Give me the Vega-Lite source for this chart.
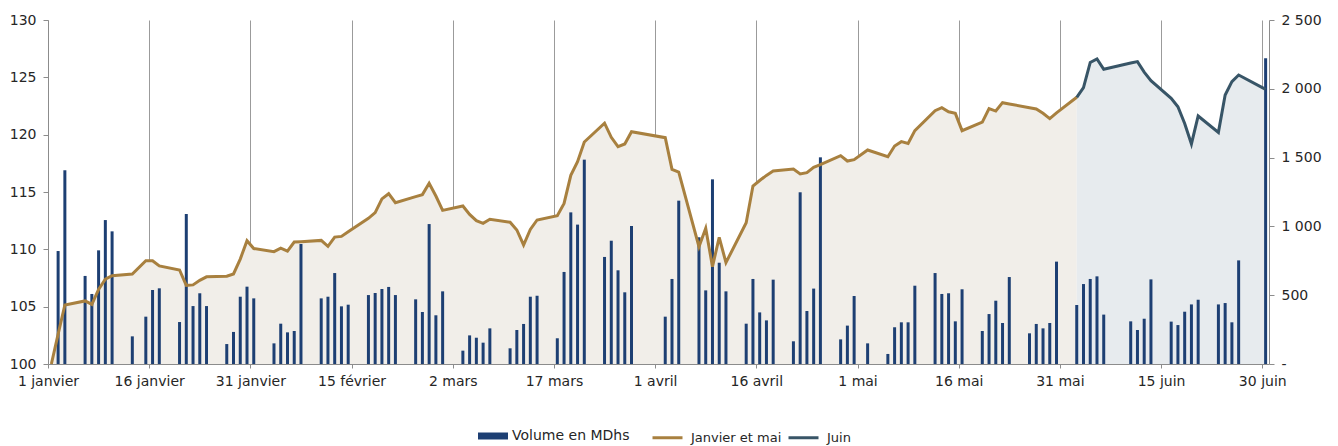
{
  "$schema": "https://vega.github.io/schema/vega-lite/v6.json",
  "width": 1221,
  "height": 344,
  "autosize": {"type": "none"},
  "padding": {"left": 48, "top": 20, "right": 69, "bottom": 82},
  "background": "white",
  "config": {
    "view": {"stroke": null},
    "font": "DejaVu Sans",
    "axis": {"labelFont": "DejaVu Sans", "labelFontSize": 14, "labelColor": "#262626", "domainColor": "#8c8c8c", "tickColor": "#8c8c8c", "title": null},
    "legend": {"labelFont": "DejaVu Sans", "labelFontSize": 14, "labelColor": "#262626"}
  },
  "datasets": {
    "volumes": [
      {"date": "2025-01-02", "volume": 821}, {"date": "2025-01-03", "volume": 1408},
      {"date": "2025-01-06", "volume": 640}, {"date": "2025-01-07", "volume": 509}, {"date": "2025-01-08", "volume": 826}, {"date": "2025-01-09", "volume": 1046}, {"date": "2025-01-10", "volume": 964},
      {"date": "2025-01-13", "volume": 201}, {"date": "2025-01-15", "volume": 344}, {"date": "2025-01-16", "volume": 538}, {"date": "2025-01-17", "volume": 550},
      {"date": "2025-01-20", "volume": 305}, {"date": "2025-01-21", "volume": 1090}, {"date": "2025-01-22", "volume": 421}, {"date": "2025-01-23", "volume": 514}, {"date": "2025-01-24", "volume": 421},
      {"date": "2025-01-27", "volume": 145}, {"date": "2025-01-28", "volume": 233}, {"date": "2025-01-29", "volume": 489}, {"date": "2025-01-30", "volume": 562}, {"date": "2025-01-31", "volume": 477},
      {"date": "2025-02-03", "volume": 150}, {"date": "2025-02-04", "volume": 293}, {"date": "2025-02-05", "volume": 230}, {"date": "2025-02-06", "volume": 240}, {"date": "2025-02-07", "volume": 872},
      {"date": "2025-02-10", "volume": 477}, {"date": "2025-02-11", "volume": 489}, {"date": "2025-02-12", "volume": 661}, {"date": "2025-02-13", "volume": 419}, {"date": "2025-02-14", "volume": 431},
      {"date": "2025-02-17", "volume": 501}, {"date": "2025-02-18", "volume": 516}, {"date": "2025-02-19", "volume": 545}, {"date": "2025-02-20", "volume": 560}, {"date": "2025-02-21", "volume": 501},
      {"date": "2025-02-24", "volume": 470}, {"date": "2025-02-25", "volume": 378}, {"date": "2025-02-26", "volume": 1017}, {"date": "2025-02-27", "volume": 354}, {"date": "2025-02-28", "volume": 528},
      {"date": "2025-03-03", "volume": 97}, {"date": "2025-03-04", "volume": 208}, {"date": "2025-03-05", "volume": 191}, {"date": "2025-03-06", "volume": 155}, {"date": "2025-03-07", "volume": 259},
      {"date": "2025-03-10", "volume": 114}, {"date": "2025-03-11", "volume": 247}, {"date": "2025-03-12", "volume": 291}, {"date": "2025-03-13", "volume": 489}, {"date": "2025-03-14", "volume": 496},
      {"date": "2025-03-17", "volume": 187}, {"date": "2025-03-18", "volume": 669}, {"date": "2025-03-19", "volume": 1102}, {"date": "2025-03-20", "volume": 1013}, {"date": "2025-03-21", "volume": 1485},
      {"date": "2025-03-24", "volume": 778}, {"date": "2025-03-25", "volume": 896}, {"date": "2025-03-26", "volume": 681}, {"date": "2025-03-27", "volume": 521}, {"date": "2025-03-28", "volume": 1003},
      {"date": "2025-04-02", "volume": 344}, {"date": "2025-04-03", "volume": 618}, {"date": "2025-04-04", "volume": 1187},
      {"date": "2025-04-07", "volume": 921}, {"date": "2025-04-08", "volume": 535}, {"date": "2025-04-09", "volume": 1342}, {"date": "2025-04-10", "volume": 736}, {"date": "2025-04-11", "volume": 528},
      {"date": "2025-04-14", "volume": 293}, {"date": "2025-04-15", "volume": 618}, {"date": "2025-04-16", "volume": 375}, {"date": "2025-04-17", "volume": 317}, {"date": "2025-04-18", "volume": 613},
      {"date": "2025-04-21", "volume": 165}, {"date": "2025-04-22", "volume": 1248}, {"date": "2025-04-23", "volume": 385}, {"date": "2025-04-24", "volume": 548}, {"date": "2025-04-25", "volume": 1502},
      {"date": "2025-04-28", "volume": 179}, {"date": "2025-04-29", "volume": 279}, {"date": "2025-04-30", "volume": 494}, {"date": "2025-05-02", "volume": 150},
      {"date": "2025-05-05", "volume": 73}, {"date": "2025-05-06", "volume": 267}, {"date": "2025-05-07", "volume": 303}, {"date": "2025-05-08", "volume": 303}, {"date": "2025-05-09", "volume": 569},
      {"date": "2025-05-12", "volume": 661}, {"date": "2025-05-13", "volume": 509}, {"date": "2025-05-14", "volume": 514}, {"date": "2025-05-15", "volume": 310}, {"date": "2025-05-16", "volume": 543},
      {"date": "2025-05-19", "volume": 240}, {"date": "2025-05-20", "volume": 363}, {"date": "2025-05-21", "volume": 460}, {"date": "2025-05-22", "volume": 298}, {"date": "2025-05-23", "volume": 632},
      {"date": "2025-05-26", "volume": 223}, {"date": "2025-05-27", "volume": 291}, {"date": "2025-05-28", "volume": 259}, {"date": "2025-05-29", "volume": 298}, {"date": "2025-05-30", "volume": 744},
      {"date": "2025-06-02", "volume": 429}, {"date": "2025-06-03", "volume": 581}, {"date": "2025-06-04", "volume": 618}, {"date": "2025-06-05", "volume": 637}, {"date": "2025-06-06", "volume": 359},
      {"date": "2025-06-10", "volume": 310}, {"date": "2025-06-11", "volume": 247}, {"date": "2025-06-12", "volume": 329}, {"date": "2025-06-13", "volume": 615},
      {"date": "2025-06-16", "volume": 308}, {"date": "2025-06-17", "volume": 283}, {"date": "2025-06-18", "volume": 380}, {"date": "2025-06-19", "volume": 433}, {"date": "2025-06-20", "volume": 467},
      {"date": "2025-06-23", "volume": 433}, {"date": "2025-06-24", "volume": 443}, {"date": "2025-06-25", "volume": 303}, {"date": "2025-06-26", "volume": 753},
      {"date": "2025-06-30", "volume": 2222}
    ],
    "indice": [
      {"date": "2025-01-01", "valeur": 100, "serie": "Janvier et mai"},
      {"date": "2025-01-02", "valeur": 102.6, "serie": "Janvier et mai"},
      {"date": "2025-01-03", "valeur": 105.15, "serie": "Janvier et mai"},
      {"date": "2025-01-06", "valeur": 105.5, "serie": "Janvier et mai"},
      {"date": "2025-01-07", "valeur": 105.2, "serie": "Janvier et mai"},
      {"date": "2025-01-08", "valeur": 106.5, "serie": "Janvier et mai"},
      {"date": "2025-01-09", "valeur": 107.4, "serie": "Janvier et mai"},
      {"date": "2025-01-10", "valeur": 107.7, "serie": "Janvier et mai"},
      {"date": "2025-01-13", "valeur": 107.85, "serie": "Janvier et mai"},
      {"date": "2025-01-15", "valeur": 109.0, "serie": "Janvier et mai"},
      {"date": "2025-01-16", "valeur": 109.0, "serie": "Janvier et mai"},
      {"date": "2025-01-17", "valeur": 108.55, "serie": "Janvier et mai"},
      {"date": "2025-01-20", "valeur": 108.2, "serie": "Janvier et mai"},
      {"date": "2025-01-21", "valeur": 106.86, "serie": "Janvier et mai"},
      {"date": "2025-01-22", "valeur": 106.9, "serie": "Janvier et mai"},
      {"date": "2025-01-23", "valeur": 107.3, "serie": "Janvier et mai"},
      {"date": "2025-01-24", "valeur": 107.6, "serie": "Janvier et mai"},
      {"date": "2025-01-27", "valeur": 107.65, "serie": "Janvier et mai"},
      {"date": "2025-01-28", "valeur": 107.85, "serie": "Janvier et mai"},
      {"date": "2025-01-29", "valeur": 109.15, "serie": "Janvier et mai"},
      {"date": "2025-01-30", "valeur": 110.75, "serie": "Janvier et mai"},
      {"date": "2025-01-31", "valeur": 110.07, "serie": "Janvier et mai"},
      {"date": "2025-02-03", "valeur": 109.8, "serie": "Janvier et mai"},
      {"date": "2025-02-04", "valeur": 110.1, "serie": "Janvier et mai"},
      {"date": "2025-02-05", "valeur": 109.85, "serie": "Janvier et mai"},
      {"date": "2025-02-06", "valeur": 110.64, "serie": "Janvier et mai"},
      {"date": "2025-02-07", "valeur": 110.67, "serie": "Janvier et mai"},
      {"date": "2025-02-10", "valeur": 110.78, "serie": "Janvier et mai"},
      {"date": "2025-02-11", "valeur": 110.26, "serie": "Janvier et mai"},
      {"date": "2025-02-12", "valeur": 111.07, "serie": "Janvier et mai"},
      {"date": "2025-02-13", "valeur": 111.13, "serie": "Janvier et mai"},
      {"date": "2025-02-14", "valeur": 111.54, "serie": "Janvier et mai"},
      {"date": "2025-02-17", "valeur": 112.7, "serie": "Janvier et mai"},
      {"date": "2025-02-18", "valeur": 113.2, "serie": "Janvier et mai"},
      {"date": "2025-02-19", "valeur": 114.4, "serie": "Janvier et mai"},
      {"date": "2025-02-20", "valeur": 114.85, "serie": "Janvier et mai"},
      {"date": "2025-02-21", "valeur": 114.07, "serie": "Janvier et mai"},
      {"date": "2025-02-24", "valeur": 114.6, "serie": "Janvier et mai"},
      {"date": "2025-02-25", "valeur": 114.77, "serie": "Janvier et mai"},
      {"date": "2025-02-26", "valeur": 115.76, "serie": "Janvier et mai"},
      {"date": "2025-02-27", "valeur": 114.65, "serie": "Janvier et mai"},
      {"date": "2025-02-28", "valeur": 113.4, "serie": "Janvier et mai"},
      {"date": "2025-03-03", "valeur": 113.78, "serie": "Janvier et mai"},
      {"date": "2025-03-04", "valeur": 113.05, "serie": "Janvier et mai"},
      {"date": "2025-03-05", "valeur": 112.5, "serie": "Janvier et mai"},
      {"date": "2025-03-06", "valeur": 112.27, "serie": "Janvier et mai"},
      {"date": "2025-03-07", "valeur": 112.62, "serie": "Janvier et mai"},
      {"date": "2025-03-10", "valeur": 112.36, "serie": "Janvier et mai"},
      {"date": "2025-03-11", "valeur": 111.69, "serie": "Janvier et mai"},
      {"date": "2025-03-12", "valeur": 110.38, "serie": "Janvier et mai"},
      {"date": "2025-03-13", "valeur": 111.74, "serie": "Janvier et mai"},
      {"date": "2025-03-14", "valeur": 112.56, "serie": "Janvier et mai"},
      {"date": "2025-03-17", "valeur": 112.93, "serie": "Janvier et mai"},
      {"date": "2025-03-18", "valeur": 114.0, "serie": "Janvier et mai"},
      {"date": "2025-03-19", "valeur": 116.45, "serie": "Janvier et mai"},
      {"date": "2025-03-20", "valeur": 117.65, "serie": "Janvier et mai"},
      {"date": "2025-03-21", "valeur": 119.36, "serie": "Janvier et mai"},
      {"date": "2025-03-24", "valeur": 121.0, "serie": "Janvier et mai"},
      {"date": "2025-03-25", "valeur": 119.77, "serie": "Janvier et mai"},
      {"date": "2025-03-26", "valeur": 118.95, "serie": "Janvier et mai"},
      {"date": "2025-03-27", "valeur": 119.19, "serie": "Janvier et mai"},
      {"date": "2025-03-28", "valeur": 120.26, "serie": "Janvier et mai"},
      {"date": "2025-04-02", "valeur": 119.74, "serie": "Janvier et mai"},
      {"date": "2025-04-03", "valeur": 116.98, "serie": "Janvier et mai"},
      {"date": "2025-04-04", "valeur": 116.74, "serie": "Janvier et mai"},
      {"date": "2025-04-07", "valeur": 110.23, "serie": "Janvier et mai"},
      {"date": "2025-04-08", "valeur": 111.83, "serie": "Janvier et mai"},
      {"date": "2025-04-09", "valeur": 108.49, "serie": "Janvier et mai"},
      {"date": "2025-04-10", "valeur": 111.05, "serie": "Janvier et mai"},
      {"date": "2025-04-11", "valeur": 108.84, "serie": "Janvier et mai"},
      {"date": "2025-04-14", "valeur": 112.32, "serie": "Janvier et mai"},
      {"date": "2025-04-15", "valeur": 115.52, "serie": "Janvier et mai"},
      {"date": "2025-04-16", "valeur": 116.0, "serie": "Janvier et mai"},
      {"date": "2025-04-17", "valeur": 116.45, "serie": "Janvier et mai"},
      {"date": "2025-04-18", "valeur": 116.83, "serie": "Janvier et mai"},
      {"date": "2025-04-21", "valeur": 117.0, "serie": "Janvier et mai"},
      {"date": "2025-04-22", "valeur": 116.57, "serie": "Janvier et mai"},
      {"date": "2025-04-23", "valeur": 116.69, "serie": "Janvier et mai"},
      {"date": "2025-04-24", "valeur": 117.15, "serie": "Janvier et mai"},
      {"date": "2025-04-25", "valeur": 117.38, "serie": "Janvier et mai"},
      {"date": "2025-04-28", "valeur": 118.17, "serie": "Janvier et mai"},
      {"date": "2025-04-29", "valeur": 117.7, "serie": "Janvier et mai"},
      {"date": "2025-04-30", "valeur": 117.82, "serie": "Janvier et mai"},
      {"date": "2025-05-02", "valeur": 118.66, "serie": "Janvier et mai"},
      {"date": "2025-05-05", "valeur": 118.08, "serie": "Janvier et mai"},
      {"date": "2025-05-06", "valeur": 119.01, "serie": "Janvier et mai"},
      {"date": "2025-05-07", "valeur": 119.39, "serie": "Janvier et mai"},
      {"date": "2025-05-08", "valeur": 119.24, "serie": "Janvier et mai"},
      {"date": "2025-05-09", "valeur": 120.35, "serie": "Janvier et mai"},
      {"date": "2025-05-12", "valeur": 122.09, "serie": "Janvier et mai"},
      {"date": "2025-05-13", "valeur": 122.35, "serie": "Janvier et mai"},
      {"date": "2025-05-14", "valeur": 122.0, "serie": "Janvier et mai"},
      {"date": "2025-05-15", "valeur": 121.86, "serie": "Janvier et mai"},
      {"date": "2025-05-16", "valeur": 120.35, "serie": "Janvier et mai"},
      {"date": "2025-05-19", "valeur": 121.1, "serie": "Janvier et mai"},
      {"date": "2025-05-20", "valeur": 122.27, "serie": "Janvier et mai"},
      {"date": "2025-05-21", "valeur": 122.06, "serie": "Janvier et mai"},
      {"date": "2025-05-22", "valeur": 122.79, "serie": "Janvier et mai"},
      {"date": "2025-05-23", "valeur": 122.68, "serie": "Janvier et mai"},
      {"date": "2025-05-26", "valeur": 122.35, "serie": "Janvier et mai"},
      {"date": "2025-05-27", "valeur": 122.24, "serie": "Janvier et mai"},
      {"date": "2025-05-28", "valeur": 121.86, "serie": "Janvier et mai"},
      {"date": "2025-05-29", "valeur": 121.4, "serie": "Janvier et mai"},
      {"date": "2025-05-30", "valeur": 121.9, "serie": "Janvier et mai"},
      {"date": "2025-06-02", "valeur": 123.26, "serie": "Janvier et mai"},
      {"date": "2025-06-02", "valeur": 123.26, "serie": "Juin"},
      {"date": "2025-06-03", "valeur": 124.1, "serie": "Juin"},
      {"date": "2025-06-04", "valeur": 126.3, "serie": "Juin"},
      {"date": "2025-06-05", "valeur": 126.6, "serie": "Juin"},
      {"date": "2025-06-06", "valeur": 125.7, "serie": "Juin"},
      {"date": "2025-06-10", "valeur": 126.25, "serie": "Juin"},
      {"date": "2025-06-11", "valeur": 126.37, "serie": "Juin"},
      {"date": "2025-06-12", "valeur": 125.46, "serie": "Juin"},
      {"date": "2025-06-13", "valeur": 124.71, "serie": "Juin"},
      {"date": "2025-06-16", "valeur": 123.17, "serie": "Juin"},
      {"date": "2025-06-17", "valeur": 122.44, "serie": "Juin"},
      {"date": "2025-06-18", "valeur": 120.98, "serie": "Juin"},
      {"date": "2025-06-19", "valeur": 119.19, "serie": "Juin"},
      {"date": "2025-06-20", "valeur": 121.63, "serie": "Juin"},
      {"date": "2025-06-23", "valeur": 120.2, "serie": "Juin"},
      {"date": "2025-06-24", "valeur": 123.46, "serie": "Juin"},
      {"date": "2025-06-25", "valeur": 124.62, "serie": "Juin"},
      {"date": "2025-06-26", "valeur": 125.2, "serie": "Juin"},
      {"date": "2025-06-30", "valeur": 123.95, "serie": "Juin"}
    ]
  },
  "layer": [
    {
      "data": {"name": "indice"},
      "mark": {"type": "area", "opacity": 1},
      "encoding": {
        "x": {
          "field": "date", "type": "temporal", "timeUnit": "utcyearmonthdate", "bandPosition": 0.5,
          "scale": {"domain": [{"year": 2025, "month": 1, "date": 1, "utc": true}, {"year": 2025, "month": 7, "date": 1, "utc": true}]},
          "axis": {
            "values": [
              {"year": 2025, "month": 1, "date": 1, "utc": true}, {"year": 2025, "month": 1, "date": 16, "utc": true},
              {"year": 2025, "month": 1, "date": 31, "utc": true}, {"year": 2025, "month": 2, "date": 15, "utc": true},
              {"year": 2025, "month": 3, "date": 2, "utc": true}, {"year": 2025, "month": 3, "date": 17, "utc": true},
              {"year": 2025, "month": 4, "date": 1, "utc": true}, {"year": 2025, "month": 4, "date": 16, "utc": true},
              {"year": 2025, "month": 5, "date": 1, "utc": true}, {"year": 2025, "month": 5, "date": 16, "utc": true},
              {"year": 2025, "month": 5, "date": 31, "utc": true}, {"year": 2025, "month": 6, "date": 15, "utc": true},
              {"year": 2025, "month": 6, "date": 30, "utc": true}
            ],
            "labelExpr": "utcdate(datum.value) + ' ' + ['janvier','février','mars','avril','mai','juin','juillet'][utcmonth(datum.value)]",
            "grid": true, "gridColor": "#9b9b9b", "gridWidth": 1,
            "tickSize": 4, "labelPadding": 6, "labelOverlap": false, "labelFlush": false
          }
        },
        "y": {
          "field": "valeur", "type": "quantitative", "stack": null,
          "scale": {"domain": [100, 130], "zero": false, "nice": false},
          "axis": {"values": [100, 105, 110, 115, 120, 125, 130], "grid": false, "tickSize": 5, "labelPadding": 7}
        },
        "y2": {"datum": 100},
        "fill": {
          "field": "serie", "type": "nominal",
          "scale": {"domain": ["Juin", "Janvier et mai"], "range": ["#e7ebee", "#f1eee9"]},
          "legend": null
        }
      }
    },
    {
      "data": {"name": "volumes"},
      "mark": {"type": "bar", "width": 3},
      "encoding": {
        "x": {"field": "date", "type": "temporal", "timeUnit": "utcyearmonthdate", "bandPosition": 0.5},
        "y": {
          "field": "volume", "type": "quantitative",
          "scale": {"domain": [0, 2500], "nice": false},
          "axis": {
            "orient": "right", "values": [0, 500, 1000, 1500, 2000, 2500], "grid": false, "tickSize": 5, "labelPadding": 7,
            "labelExpr": "datum.value == 0 ? '-' : replace(format(datum.value, ','), ',', ' ')"
          }
        },
        "color": {
          "datum": "Volume en MDhs", "type": "nominal",
          "scale": {"range": ["#1d3f73"]},
          "legend": {
            "orient": "none", "legendX": 430, "legendY": 401, "title": null,
            "symbolType": "M-1,-0.233H1V0.233H-1Z", "symbolSize": 900, "symbolStrokeWidth": 0, "labelOffset": 4
          }
        }
      }
    },
    {
      "data": {"name": "indice"},
      "mark": {"type": "line", "strokeWidth": 3},
      "encoding": {
        "x": {"field": "date", "type": "temporal", "timeUnit": "utcyearmonthdate", "bandPosition": 0.5},
        "y": {
          "field": "valeur", "type": "quantitative",
          "scale": {"domain": [100, 130], "zero": false, "nice": false},
          "axis": null
        },
        "stroke": {
          "field": "serie", "type": "nominal",
          "scale": {"domain": ["Janvier et mai", "Juin"], "range": ["#a8803f", "#385567"]},
          "legend": {
            "orient": "none", "legendX": 603, "legendY": 401, "title": null, "direction": "horizontal",
            "symbolType": "stroke", "symbolSize": 900, "symbolStrokeWidth": 3, "labelOffset": 7, "columnPadding": 0, "labelFontSize": 13
          }
        }
      }
    }
  ],
  "resolve": {"scale": {"y": "independent"}, "legend": {"stroke": "independent", "color": "independent"}}
}
